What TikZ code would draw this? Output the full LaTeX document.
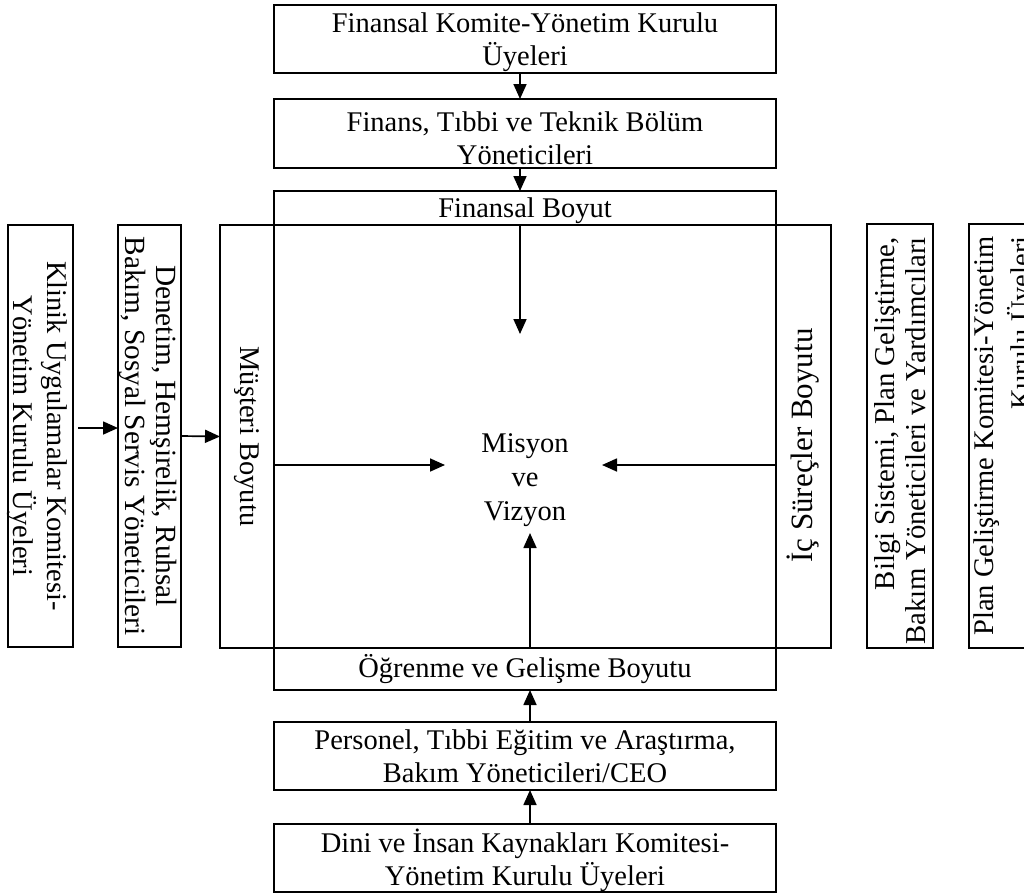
\documentclass[tikz,border=0pt]{standalone}
\usepackage{fontspec}
\setmainfont{Liberation Serif}
\usetikzlibrary{arrows.meta}
\newcommand\diagfont{\fontsize{28.5}{33}\selectfont}
\begin{document}
\begin{tikzpicture}[x=1pt,y=-1pt,
  box/.style={draw,line width=2.2pt,rectangle,inner sep=0pt,outer sep=0pt},
  txt/.style={inner sep=0pt,align=center,font=\diagfont},
  vtxt/.style={txt,rotate=-90},
  utxt/.style={txt,rotate=90},
  arr/.style={line width=1.7pt,-{Triangle[length=15pt,width=13pt]}},
]
\useasboundingbox (0,0) rectangle (1024,892);
\clip (0,0) rectangle (1024,892);

% top chain
\node[box,minimum width=502pt,minimum height=68pt] (f1) at (525,39) {};
\node[txt] (f1t) at ([yshift=-3pt]f1.center) {Finansal Komite-Yönetim Kurulu\\Üyeleri};
\node[box,minimum width=502pt,minimum height=69pt] (f2) at (525,133.5) {};
\node[txt] (f2t) at ([yshift=-5pt]f2.center) {Finans, Tıbbi ve Teknik Bölüm\\Yöneticileri};

% the four perspectives around the centre
\node[box,minimum width=502pt,minimum height=34pt] (finb) at (525,208) {};
\node[txt] (finbt) at ([yshift=-3pt]finb.center) {Finansal Boyut};
\node[box,minimum width=502pt,minimum height=42pt] (ogr) at (525,669) {};
\node[txt] (ogrt) at (ogr.center) {Öğrenme ve Gelişme Boyutu};
\node[box,minimum width=54pt,minimum height=423pt] (mus) at (247,436.5) {};
\node[vtxt] (must) at (mus.center) {Müşteri Boyutu};
\node[box,minimum width=55pt,minimum height=423pt] (ic) at (803.5,436.5) {};
\node[utxt,font=\fontsize{31}{36}\selectfont] (ict) at ([yshift=-9pt]ic.center) {İç Süreçler Boyutu};

\node[txt,font=\fontsize{28.5}{34}\selectfont] (mv) at (525,480) {Misyon\\ve\\Vizyon};

\coordinate (tipT) at (520,334);
\coordinate (tipL) at (445,465);
\coordinate (tipR) at (602,465);
\coordinate (tipB) at (530,533);

% left side
\node[box,minimum width=65pt,minimum height=422pt] (kl) at (40.5,436) {};
\node[vtxt,font=\fontsize{28.5}{34}\selectfont] (klt) at ([xshift=-3pt]kl.center)
  {Klinik Uygulamalar Komitesi-\\Yönetim Kurulu Üyeleri};
\node[box,minimum width=63pt,minimum height=422pt] (den) at (149.5,436) {};
\node[vtxt,font=\fontsize{29.3}{31}\selectfont] (dent) at ([xshift=-1pt]den.center)
  {Denetim, Hemşirelik, Ruhsal\\Bakım, Sosyal Servis Yöneticileri};

% right side
\node[box,minimum width=66pt,minimum height=424pt] (bi) at (900,436) {};
\node[utxt,align=right,font=\fontsize{28.8}{31}\selectfont] (bit) at ([yshift=-5pt]bi.center)
  {Bilgi Sistemi, Plan Geliştirme,\\Bakım Yöneticileri ve Yardımcıları};
\node[box,minimum width=66pt,minimum height=424pt] (pl) at (1002,436) {};
\node[utxt,align=right,font=\fontsize{28.5}{37}\selectfont] (plt) at ([xshift=3pt]pl.center)
  {Plan Geliştirme Komitesi-Yönetim\\Kurulu Üyeleri};

% bottom chain
\node[box,minimum width=502pt,minimum height=68pt] (pers) at (525,756) {};
\node[txt] (perst) at (pers.center) {Personel, Tıbbi Eğitim ve Araştırma,\\Bakım Yöneticileri/CEO};
\node[box,minimum width=502pt,minimum height=68pt] (dini) at (525,858) {};
\node[txt] (dinit) at ([yshift=-2pt]dini.center) {Dini ve İnsan Kaynakları Komitesi-\\Yönetim Kurulu Üyeleri};

% connectors
\draw[arr] ([xshift=-5pt]f1.south) -- ([xshift=-5pt]f2.north);
\draw[arr] ([xshift=-5pt]f2.south) -- ([xshift=-5pt]finb.north);
\draw[arr] ([xshift=-5pt]finb.south) -- (tipT);
\draw[arr] ([yshift=-28.5pt]mus.east) -- (tipL);
\draw[arr] ([yshift=-28.5pt]ic.west) -- (tipR);
\draw[arr] ([xshift=5pt]ogr.north) -- (tipB);
\draw[arr] ([xshift=5pt]pers.north) -- ([xshift=5pt]ogr.south);
\draw[arr] ([xshift=5pt]dini.north) -- ([xshift=5pt]pers.south);
\draw[arr] ([shift={(5pt,8pt)}]kl.east) -- ([yshift=8pt]den.west);
\draw[arr] (den.east) -- (mus.west);
\end{tikzpicture}
\end{document}
